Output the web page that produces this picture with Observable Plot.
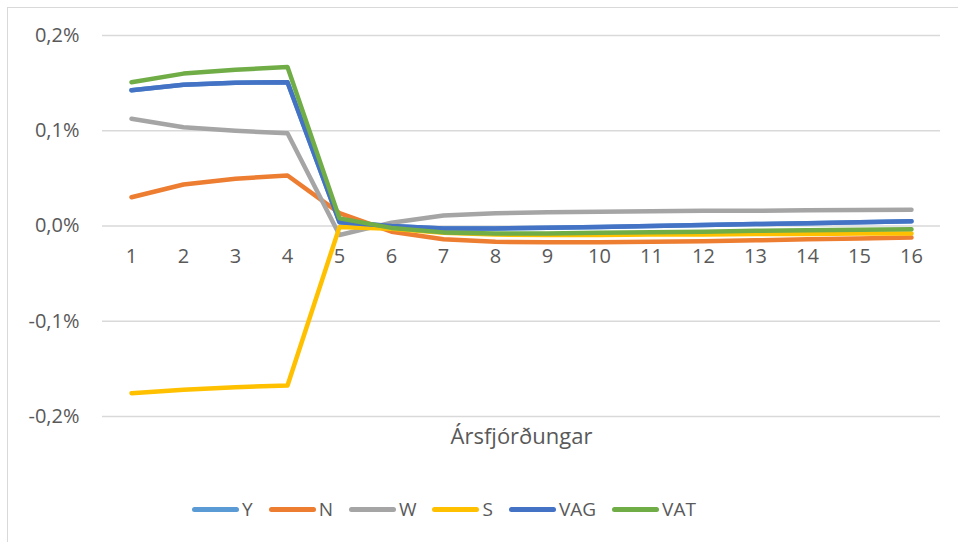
<!DOCTYPE html>
<html>
<head>
<meta charset="utf-8">
<script src="https://cdn.jsdelivr.net/npm/d3@7"></script>
<script src="https://cdn.jsdelivr.net/npm/@observablehq/plot@0.6"></script>
<style>
  html, body { margin: 0; padding: 0; background: #fff; overflow: hidden; }
  #box {
    position: absolute; left: 7px; top: 7px; width: 960px; height: 540px;
    border-left: 1px solid #d9d9d9; border-top: 1px solid #d9d9d9;
    font-family: "Open Sans", sans-serif; color: #595959;
  }
  #chart { position: absolute; left: 0; top: 0; }
  #legend {
    position: absolute; left: 184px; top: 489px; height: 24px;
    display: flex; align-items: center; font-size: 19px; color: #595959;
  }
  .item { display: flex; align-items: center; margin-right: 16px; }
  .sw { display: inline-block; width: 47px; height: 5px; border-radius: 3px; margin-right: 3px; }
</style>
</head>
<body>
<div id="box">
  <div id="chart"></div>
  <div id="legend"></div>
</div>
<script>
const quarters = [1, 2, 3, 4, 5, 6, 7, 8, 9, 10, 11, 12, 13, 14, 15, 16];
const seriesNames = ["Y", "N", "W", "S", "VAG", "VAT"];
const seriesColors = ["#5B9BD5", "#ED7D31", "#A5A5A5", "#FFC000", "#4472C4", "#70AD47"];
const yTicks = [-0.2, -0.1, 0, 0.1, 0.2];
const xTitle = "Ársfjórðungar";

// values in percent
const Y   = [0.1426, 0.1482, 0.1503, 0.151, 0.004, 0.0, -0.0025, -0.0025, -0.0018, -0.001, 0.0, 0.001, 0.002, 0.003, 0.004, 0.005];
const N   = [0.0302, 0.0436, 0.0496, 0.053, 0.0135, -0.006, -0.014, -0.0166, -0.017, -0.017, -0.0165, -0.016, -0.015, -0.014, -0.013, -0.012];
const W   = [0.1125, 0.1037, 0.100, 0.0974, -0.0095, 0.0035, 0.011, 0.0135, 0.0145, 0.015, 0.0155, 0.016, 0.016, 0.0165, 0.0167, 0.017];
const S   = [-0.1755, -0.172, -0.1692, -0.1675, -0.001, -0.003, -0.007, -0.009, -0.0095, -0.0095, -0.009, -0.0088, -0.0085, -0.0083, -0.008, -0.008];
const VAG = [0.1426, 0.1482, 0.1503, 0.151, 0.004, 0.0, -0.0025, -0.0025, -0.0018, -0.001, 0.0, 0.001, 0.002, 0.003, 0.004, 0.005];
const VAT = [0.151, 0.160, 0.164, 0.167, 0.008, -0.002, -0.0067, -0.0078, -0.0078, -0.0071, -0.0065, -0.006, -0.005, -0.0045, -0.004, -0.0035];

const seriesValues = [Y, N, W, S, VAG, VAT];
const data = seriesNames.flatMap((name, i) =>
  quarters.map((q, j) => ({series: name, q, v: seriesValues[i][j]}))
);

const fmt = d => d.toFixed(1).replace(".", ",") + "%";

const chart = Plot.plot({
  width: 950,
  height: 450,
  marginLeft: 94,
  marginRight: 18,
  marginTop: 27,
  marginBottom: 42,
  style: {fontFamily: "Open Sans, sans-serif", fontSize: "20px", color: "#595959", background: "transparent"},
  x: {type: "point", domain: quarters, padding: 0.5, axis: null},
  y: {domain: [-0.2, 0.2], ticks: yTicks, tickFormat: fmt, tickSize: 0, tickPadding: 23, label: null},
  color: {domain: seriesNames, range: seriesColors},
  marks: [
    Plot.ruleY(yTicks, {stroke: "#d9d9d9", strokeWidth: 1.3}),
    Plot.text(quarters, {x: d => d, y: () => 0, text: d => String(d), dy: 31, fill: "#595959", fontSize: 20}),
    Plot.line(data, {x: "q", y: "v", z: "series", stroke: "series", strokeWidth: 4.5, strokeLinecap: "round", strokeLinejoin: "round"}),
    Plot.text([xTitle], {frameAnchor: "bottom", text: d => d, dy: 27, fontSize: 22, fill: "#595959"})
  ]
});
document.getElementById("chart").appendChild(chart);

const legend = document.getElementById("legend");
seriesNames.forEach((name, i) => {
  const item = document.createElement("div");
  item.className = "item";
  const sw = document.createElement("span");
  sw.className = "sw";
  sw.style.background = seriesColors[i];
  const lab = document.createElement("span");
  lab.textContent = name;
  item.appendChild(sw);
  item.appendChild(lab);
  legend.appendChild(item);
});
</script>
</body>
</html>
